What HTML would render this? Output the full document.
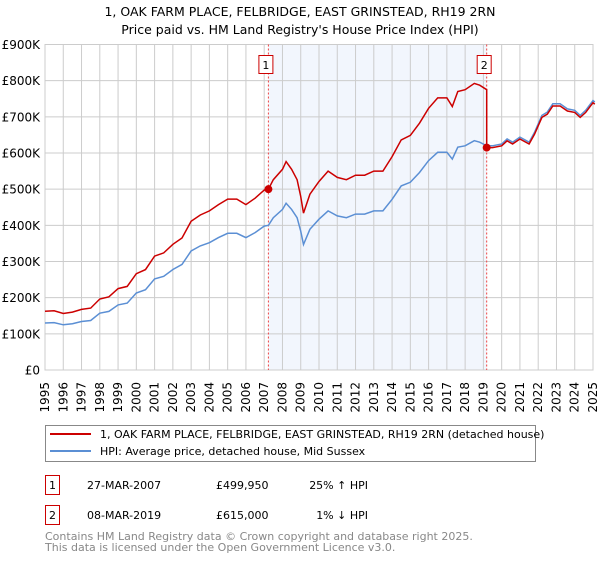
<!DOCTYPE html>
<html><head><meta charset="utf-8"><style>
body{margin:0;background:#fff;width:600px;height:560px;overflow:hidden;font-family:"DejaVu Sans","Liberation Sans",sans-serif}
svg text{font-family:"DejaVu Sans","Liberation Sans",sans-serif}
</style></head><body>
<svg id="chart" width="600" height="560" viewBox="0 0 600 560" xmlns="http://www.w3.org/2000/svg">
<text x="300" y="16" text-anchor="middle" font-size="12.5">1, OAK FARM PLACE, FELBRIDGE, EAST GRINSTEAD, RH19 2RN</text>
<text x="300" y="34" text-anchor="middle" font-size="12.5">Price paid vs. HM Land Registry's House Price Index (HPI)</text>
<g id="grid"></g>
<g id="axes"></g>
<g id="series"></g>
<g>
<rect x="45.5" y="425.5" width="490" height="36" fill="#fff" stroke="#888"/>
<line x1="50" y1="434" x2="91" y2="434" stroke="#cc0000" stroke-width="2"/>
<text x="100" y="438" font-size="11">1, OAK FARM PLACE, FELBRIDGE, EAST GRINSTEAD, RH19 2RN (detached house)</text>
<line x1="50" y1="451" x2="91" y2="451" stroke="#5b8fd4" stroke-width="2"/>
<text x="100" y="455" font-size="11">HPI: Average price, detached house, Mid Sussex</text>
</g>
<g font-size="11">
<rect x="45.5" y="475.5" width="14" height="19" fill="#fff" stroke="#cc0000"/>
<text x="52.5" y="489" text-anchor="middle">1</text>
<text x="87" y="489">27-MAR-2007</text>
<text x="216" y="489">£499,950</text>
<text x="368" y="489" text-anchor="end">25% ↑ HPI</text>
<rect x="45.5" y="505.5" width="14" height="19" fill="#fff" stroke="#cc0000"/>
<text x="52.5" y="519" text-anchor="middle">2</text>
<text x="87" y="519">08-MAR-2019</text>
<text x="216" y="519">£615,000</text>
<text x="368" y="519" text-anchor="end">1% ↓ HPI</text>
</g>
<g font-size="11" fill="#888">
<text x="45" y="540">Contains HM Land Registry data © Crown copyright and database right 2025.</text>
<text x="45" y="551">This data is licensed under the Open Government Licence v3.0.</text>
</g>
</svg>
<script>
const hpiYears=[1995,1995.5,1996,1996.5,1997,1997.5,1998,1998.5,1999,1999.5,2000,2000.5,2001,2001.5,2002,2002.5,2003,2003.5,2004,2004.5,2005,2005.5,2006,2006.5,2007,2007.23,2007.5,2008,2008.2,2008.5,2008.8,2009,2009.15,2009.5,2010,2010.5,2011,2011.5,2012,2012.5,2013,2013.5,2014,2014.5,2015,2015.5,2016,2016.5,2017,2017.3,2017.6,2018,2018.5,2018.8,2019.18,2019.5,2020,2020.3,2020.6,2021,2021.5,2021.8,2022.2,2022.5,2022.8,2023.2,2023.6,2024,2024.3,2024.6,2025,2025.1];
const hpiValues=[130,131,125,128,134,137,157,162,180,185,213,222,252,259,278,292,329,343,352,366,378,378,366,380,398,400,421,444,461,444,421,384,347,389,417,440,426,421,431,431,440,440,472,509,519,546,579,602,602,583,616,620,634,630,620,620,625,639,630,644,630,657,704,713,736,736,722,718,704,718,745,741];
const saleYears=[2007.23,2019.18];
const salePrices=[499.95,615];
const yTicks=[0,100,200,300,400,500,600,700,800,900];
const yTickLabels=["£0","£100K","£200K","£300K","£400K","£500K","£600K","£700K","£800K","£900K"];
const xTicks=[1995,1996,1997,1998,1999,2000,2001,2002,2003,2004,2005,2006,2007,2008,2009,2010,2011,2012,2013,2014,2015,2016,2017,2018,2019,2020,2021,2022,2023,2024,2025];

const NS="http://www.w3.org/2000/svg";
const L=45,R=593,T=44.5,B=370;
const X=y=>L+(y-1995)*(R-L)/30;
const Y=v=>B-v*(B-T)/900;
function mk(tag,attrs,parent){const e=document.createElementNS(NS,tag);for(const k in attrs)e.setAttribute(k,attrs[k]);parent.appendChild(e);return e;}
const grid=document.getElementById('grid'),axes=document.getElementById('axes'),series=document.getElementById('series');
// shaded ownership
const sh=mk('rect',{x:X(saleYears[0]),y:T,width:X(saleYears[1])-X(saleYears[0]),height:B-T,fill:'#eef3fc',opacity:0.75},grid);


xTicks.forEach(t=>{const l=mk('line',{x1:X(t),x2:X(t),y1:T,y2:B,stroke:'#cccccc','stroke-width':1},grid);


const tx=mk('text',{x:0,y:0,'font-size':12,'text-anchor':'end',transform:`translate(${X(t)+4},382) rotate(-90)`},axes);tx.textContent=t;

});
yTicks.forEach((t,i)=>{const l=mk('line',{x1:L,x2:R,y1:Y(t),y2:Y(t),stroke:'#cccccc','stroke-width':1},grid);


const tx=mk('text',{x:40,y:Y(t)+4.5,'font-size':12,'text-anchor':'end'},axes);tx.textContent=yTickLabels[i];

});
const fr=mk('rect',{x:L,y:T,width:R-L,height:B-T,fill:'none',stroke:'#cccccc'},grid);


// sale vlines
saleYears.forEach((s,i)=>{const l=mk('line',{x1:X(s),x2:X(s),y1:T,y2:B,stroke:'#ee4444','stroke-width':1,'stroke-dasharray':'2,2'},grid);


const bx=mk('rect',{x:X(s)-9.5,y:55.5,width:14,height:18,fill:'#fff',stroke:'#cc0000'},grid);


const t=mk('text',{x:X(s)-2.5,y:69,'font-size':11,'text-anchor':'middle'},grid);t.textContent=i+1;

});
function interp(yr){for(let i=0;i<hpiYears.length-1;i++){if(yr>=hpiYears[i]&&yr<=hpiYears[i+1]){const f=(yr-hpiYears[i])/(hpiYears[i+1]-hpiYears[i]);return hpiValues[i]+f*(hpiValues[i+1]-hpiValues[i]);}}return hpiValues[hpiValues.length-1];}
const r1=salePrices[0]/interp(saleYears[0]),r2=salePrices[1]/interp(saleYears[1]);
const hp=hpiYears.map((y,i)=>`${X(y).toFixed(1)},${Y(hpiValues[i]).toFixed(1)}`).join(' ');
const hl=mk('polyline',{points:hp,fill:'none',stroke:'#5b8fd4','stroke-width':1.5},series);


let rp=[];
hpiYears.forEach((y,i)=>{if(y<saleYears[1])rp.push([y,hpiValues[i]*r1]);});
rp.push([saleYears[1],interp(saleYears[1])*r1]);
rp.push([saleYears[1],salePrices[1]]);
hpiYears.forEach((y,i)=>{if(y>saleYears[1])rp.push([y,hpiValues[i]*r2]);});
const rl=mk('polyline',{points:rp.map(p=>`${X(p[0]).toFixed(1)},${Y(p[1]).toFixed(1)}`).join(' '),fill:'none',stroke:'#cc0000','stroke-width':1.5},series);


saleYears.forEach((s,i)=>{const c=mk('circle',{cx:X(s),cy:Y(salePrices[i]),r:4,fill:'#cc0000'},series);

});
</script>
</body></html>
